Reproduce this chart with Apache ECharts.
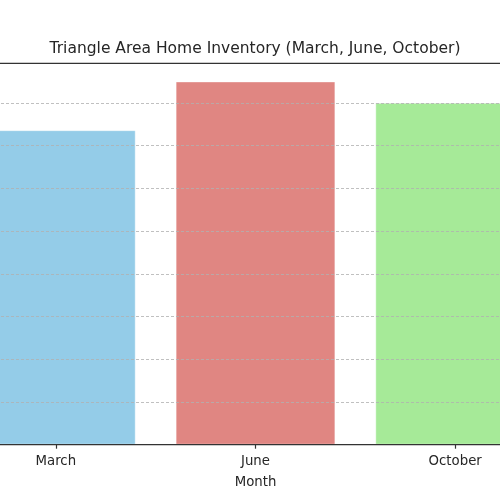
<!DOCTYPE html>
<html>
<head>
<meta charset="utf-8">
<script src="https://cdn.jsdelivr.net/npm/echarts@6/dist/echarts.min.js"></script>
<style>
	html, body { margin: 0; padding: 0; background: #fff; overflow: hidden; }
	#wrap { position: relative; width: 500px; height: 500px; overflow: hidden; }
	/* the reference is a crop of a wider plot, so the chart is wider than the window */
	#chart { position: absolute; left: -44px; top: 0; width: 599px; height: 500px; }
</style>
</head>
<body>
<div id="wrap"><div id="chart"></div></div>
<script>
	var months = ['March', 'June', 'October'];
	var inventory = [3680, 4250, 4000];
	var barColors = ['#94cce8', '#e08682', '#a6ea98'];

	var yStep = 500;
	var yTop = 4462.5;

	var chart = echarts.init(document.getElementById('chart'));

	var barData = [];
	for (var i = 0; i < months.length; i++) {
		barData.push({
			value : inventory[i],
			itemStyle : { color : barColors[i] }
		});
	}

	chart.setOption({
		animation : false,
		title : {
			text : 'Triangle Area Home Inventory (March, June, October)',
			left : 294,
			textAlign : 'center',
			top : 36,
			textStyle : {
				fontFamily : 'DejaVu Sans',
				fontSize : 15.5,
				fontWeight : 'normal',
				color : '#262626'
			}
		},
		grid : {
			left : 0,
			right : 0,
			top : 63.3,
			bottom : 55.3,
			z : 10,
			show : true,
			backgroundColor : 'transparent',
			borderColor : '#333',
			borderWidth : 1.2
		},
		xAxis : {
			type : 'category',
			data : months,
			name : 'Month',
			nameLocation : 'middle',
			nameGap : 31,
			nameTextStyle : { fontFamily : 'DejaVu Sans', fontSize : 13.3, color : '#262626' },
			z : 12,
			axisLine : { show : true, lineStyle : { color : '#333', width : 1.2 } },
			axisTick : { show : true, alignWithLabel : true, length : 4, lineStyle : { color : '#333', width : 1.2 } },
			axisLabel : { fontFamily : 'DejaVu Sans', fontSize : 13.3, color : '#262626', margin : 10 }
		},
		yAxis : {
			type : 'value',
			min : 0,
			max : yTop,
			interval : yStep,
			z : 5,
			axisLine : { show : false },
			axisTick : { show : false },
			axisLabel : { show : false },
			splitLine : {
				show : true,
				lineStyle : { type : [3, 2], color : 'rgba(176,176,176,0.8)', width : 1 }
			}
		},
		series : [{
			type : 'bar',
			data : barData,
			barWidth : '80%',
			itemStyle : { borderColor : 'rgba(255,255,255,0.4)', borderWidth : 1 }
		}]
	});
</script>
</body>
</html>
